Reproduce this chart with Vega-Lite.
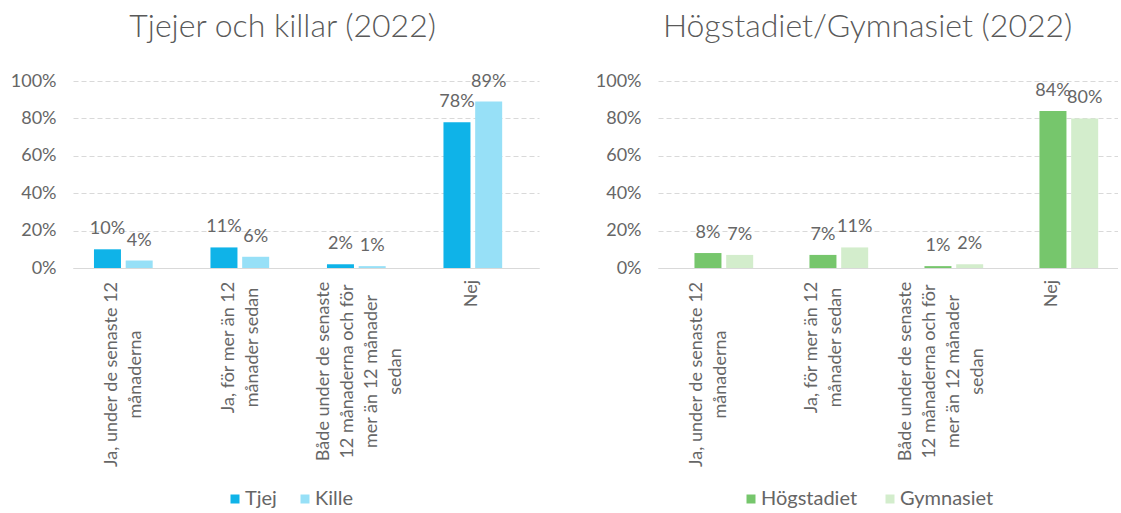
{
  "$schema": "https://vega.github.io/schema/vega-lite/v6.json",
  "background": "white",
  "padding": {"left": 10, "top": 11, "right": 0, "bottom": 0},
  "config": {
    "font": "Lato",
    "view": {"stroke": null},
    "concat": {"spacing": 56},
    "title": {"fontSize": 32, "fontWeight": 300, "color": "#595959", "offset": 28, "frame": "bounds"},
    "axisY": {"domain": false, "ticks": false, "labelFontSize": 18, "labelColor": "#666666", "labelPadding": 17, "gridColor": "#D9D9D9", "gridDash": [5, 3], "gridWidth": 1, "values": [0, 0.2, 0.4, 0.6, 0.8, 1], "format": ".0%", "title": null},
    "axisX": {
      "domainColor": "#D9D9D9", "ticks": false, "grid": false, "labelAngle": -90, "labelAlign": "center", "labelBaseline": "middle",
      "labelFontSize": 18, "labelColor": "#666666", "labelLineHeight": 24, "labelLimit": 0, "labelExpr": "split(datum.label, '|')", "title": null,
      "labelPadding": {"condition": [
        {"test": "datum.value == 'Nej'", "value": 25},
        {"test": "indexof(datum.value, 'Både') == 0", "value": 103},
        {"test": "indexof(datum.value, 'Ja, för') == 0", "value": 79}
      ], "value": 106},
      "labelOffset": {"condition": [
        {"test": "datum.value == 'Nej'", "value": -9},
        {"test": "indexof(datum.value, 'Både') == 0", "value": -40}
      ], "value": -19}
    },
    "legend": {"orient": "none", "direction": "horizontal", "symbolType": "square", "symbolSize": 81, "symbolStrokeWidth": 0, "labelFontSize": 20, "labelColor": "#666666", "title": null, "columnPadding": 18, "labelOffset": 0, "padding": 0}
  },
  "resolve": {"scale": {"color": "independent"}},
  "hconcat": [
    {
      "title": {"text": "Tjejer och killar (2022)", "dx": 8},
      "width": 466,
      "height": 187,
      "data": {"values": [
        {"kategori": "Ja, under de senaste 12|månaderna", "grupp": "Tjej", "andel": 0.10},
        {"kategori": "Ja, under de senaste 12|månaderna", "grupp": "Kille", "andel": 0.04},
        {"kategori": "Ja, för mer än 12|månader sedan", "grupp": "Tjej", "andel": 0.11},
        {"kategori": "Ja, för mer än 12|månader sedan", "grupp": "Kille", "andel": 0.06},
        {"kategori": "Både under de senaste|12 månaderna och för|mer än 12 månader|sedan", "grupp": "Tjej", "andel": 0.02},
        {"kategori": "Både under de senaste|12 månaderna och för|mer än 12 månader|sedan", "grupp": "Kille", "andel": 0.01},
        {"kategori": "Nej", "grupp": "Tjej", "andel": 0.78},
        {"kategori": "Nej", "grupp": "Kille", "andel": 0.89}
      ]},
      "encoding": {
        "x": {"field": "kategori", "type": "nominal", "sort": null, "scale": {"paddingInner": 0.48, "paddingOuter": 0.24}},
        "xOffset": {"field": "grupp", "type": "nominal", "sort": ["Tjej", "Kille"], "scale": {"paddingInner": 0.18, "paddingOuter": 0}},
        "y": {"field": "andel", "type": "quantitative", "scale": {"domain": [0, 1]}}
      },
      "layer": [
        {
          "mark": {"type": "bar", "width": 27},
          "encoding": {
            "color": {"field": "grupp", "type": "nominal", "sort": ["Tjej", "Kille"], "scale": {"domain": ["Tjej", "Kille"], "range": ["#0FB3E8", "#97E0F7"]}, "legend": {"legendX": 152, "legendY": 408}}
          }
        },
        {
          "mark": {"type": "text", "baseline": "alphabetic", "dy": -15, "fontSize": 18, "color": "#666666"},
          "encoding": {"text": {"field": "andel", "type": "quantitative", "format": ".0%"}}
        }
      ]
    },
    {
      "title": {"text": "Högstadiet/Gymnasiet (2022)", "dx": 11},
      "width": 460,
      "height": 187,
      "data": {"values": [
        {"kategori": "Ja, under de senaste 12|månaderna", "grupp": "Högstadiet", "andel": 0.08},
        {"kategori": "Ja, under de senaste 12|månaderna", "grupp": "Gymnasiet", "andel": 0.07},
        {"kategori": "Ja, för mer än 12|månader sedan", "grupp": "Högstadiet", "andel": 0.07},
        {"kategori": "Ja, för mer än 12|månader sedan", "grupp": "Gymnasiet", "andel": 0.11},
        {"kategori": "Både under de senaste|12 månaderna och för|mer än 12 månader|sedan", "grupp": "Högstadiet", "andel": 0.01},
        {"kategori": "Både under de senaste|12 månaderna och för|mer än 12 månader|sedan", "grupp": "Gymnasiet", "andel": 0.02},
        {"kategori": "Nej", "grupp": "Högstadiet", "andel": 0.84},
        {"kategori": "Nej", "grupp": "Gymnasiet", "andel": 0.80}
      ]},
      "encoding": {
        "x": {"field": "kategori", "type": "nominal", "sort": null, "scale": {"paddingInner": 0.48, "paddingOuter": 0.24}},
        "xOffset": {"field": "grupp", "type": "nominal", "sort": ["Högstadiet", "Gymnasiet"], "scale": {"paddingInner": 0.18, "paddingOuter": 0}},
        "y": {"field": "andel", "type": "quantitative", "scale": {"domain": [0, 1]}}
      },
      "layer": [
        {
          "mark": {"type": "bar", "width": 27},
          "encoding": {
            "color": {"field": "grupp", "type": "nominal", "sort": ["Högstadiet", "Gymnasiet"], "scale": {"domain": ["Högstadiet", "Gymnasiet"], "range": ["#76C66C", "#D3EDCC"]}, "legend": {"legendX": 83, "legendY": 408, "columnPadding": 22}}
          }
        },
        {
          "mark": {"type": "text", "baseline": "alphabetic", "dy": -15, "fontSize": 18, "color": "#666666"},
          "encoding": {"text": {"field": "andel", "type": "quantitative", "format": ".0%"}}
        }
      ]
    }
  ]
}
